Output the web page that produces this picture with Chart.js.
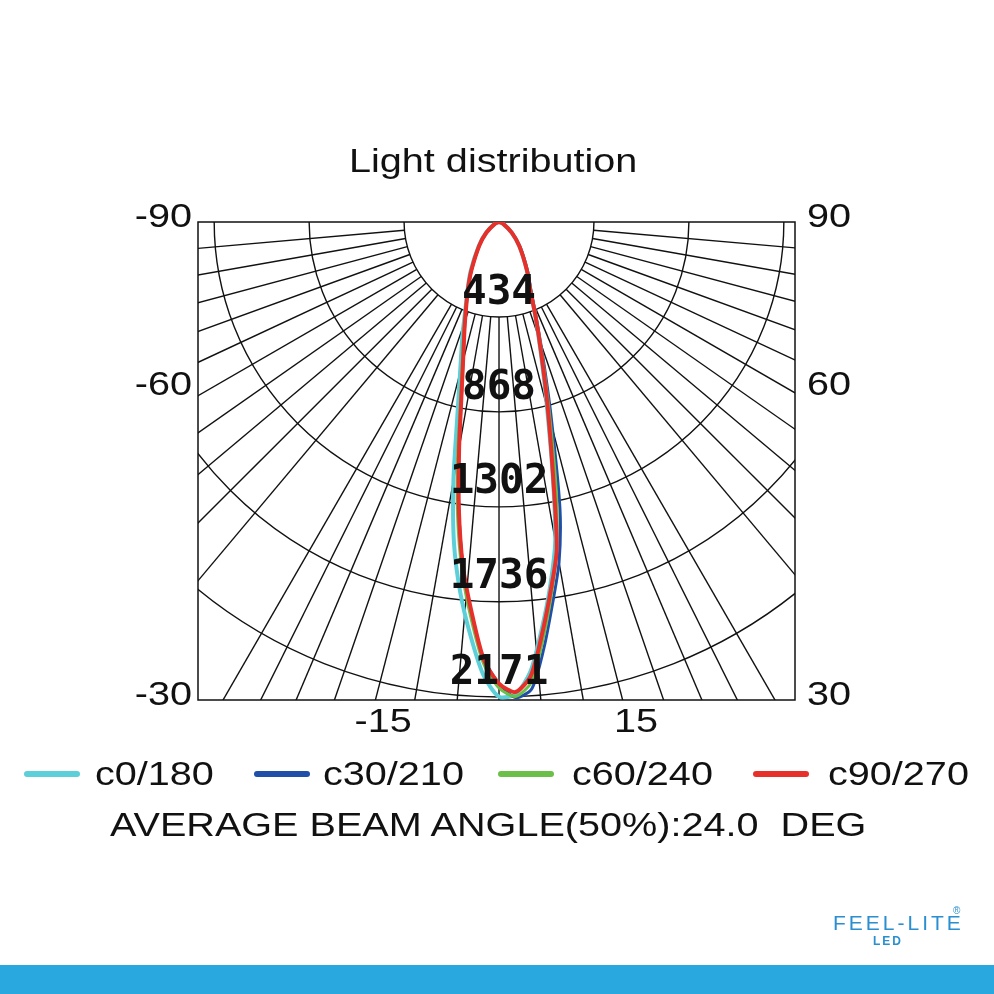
<!DOCTYPE html>
<html><head><meta charset="utf-8">
<script src="https://cdn.jsdelivr.net/npm/chart.js@4"></script>
<style>
body{margin:0;background:#fff;font-family:"Liberation Sans",Arial,sans-serif}
#wrap{position:relative;width:994px;height:994px;overflow:hidden}
canvas{position:absolute;left:0;top:0}
.t{position:absolute;color:#111;white-space:nowrap}
.sx{display:inline-block;transform:scaleX(1.2);transform-origin:left center}
.line{position:absolute;top:771px;width:56px;height:6px;border-radius:3px}
.lt{position:absolute;top:755px;font-size:33px;color:#111;white-space:nowrap}
</style></head><body><div id="wrap">
<canvas id="c" width="994" height="994"></canvas>
<div class="t" style="left:349px;top:142px;font-size:33px"><span class="sx">Light distribution</span></div>
<div class="line" style="left:24px;background:#5ccfd9"></div><div class="lt" style="left:95px"><span class="sx">c0/180</span></div>
<div class="line" style="left:254px;background:#1f4fa8"></div><div class="lt" style="left:323px"><span class="sx">c30/210</span></div>
<div class="line" style="left:498px;background:#6cc04a"></div><div class="lt" style="left:572px"><span class="sx">c60/240</span></div>
<div class="line" style="left:753px;background:#e8302a"></div><div class="lt" style="left:828px"><span class="sx">c90/270</span></div>
<div class="t" style="left:110px;top:806px;font-size:33px"><span class="sx">AVERAGE BEAM ANGLE(50%):24.0&nbsp; DEG</span></div>
<div class="t" style="left:833px;top:911px;font-size:21px;color:#2a8fd0;letter-spacing:3px">FEEL-LITE</div>
<div class="t" style="left:953px;top:905px;font-size:10px;color:#2a8fd0">®</div>
<div class="t" style="left:873px;top:934px;font-size:12px;color:#2a8fd0;font-weight:bold;letter-spacing:2px">LED</div>
<div style="position:absolute;left:0;top:965px;width:994px;height:29px;background:#29a8e0"></div>
</div>
<script>
const angles=[-90,-70,-50,-40,-30,-25,-21,-18,-15,-12,-10,-8,-6,-4,-2,0,2,4,6,8,10,12,15,18,21,25,30,40,50,70,90];
const c0_180=[0,18,78,145,260,340,430,540,680,920,1200,1480,1700,1890,2070,2170,2160,2060,1870,1680,1480,1180,830,610,465,338,255,145,75,18,0];
const c30_210=[0,18,75,140,250,335,420,510,630,830,1050,1320,1580,1800,2000,2110,2175,2140,1960,1760,1580,1340,920,650,480,345,262,150,78,18,0];
const c60_240=[0,18,76,142,252,336,424,520,645,850,1090,1360,1610,1820,2020,2130,2170,2110,1920,1720,1520,1260,880,635,475,340,258,148,77,18,0];
const c90_270=[0,18,75,140,250,335,420,510,630,830,1050,1320,1580,1790,2000,2110,2150,2080,1890,1700,1520,1190,850,620,470,335,255,145,76,18,0];
const rings=[434,868,1302,1736,2171,2605];
const ringLabels=['434','868','1302','1736','2171'];
const gridAngles=[0,5,10,14.5,19,23,26.5,30,40,45,50,55,60,65,70,75,80,85];
const leftTicks=[{v:0,t:'-90'},{v:-768,t:'-60'},{v:-2185,t:'-30'}];
const rightTicks=[{v:0,t:'90'},{v:-768,t:'60'},{v:-2185,t:'30'}];
const bottomTicks=[{v:-530,t:'-15'},{v:626,t:'15'}];
const toXY=arr=>arr.map((I,i)=>{const a=angles[i]*Math.PI/180;return {x:I*Math.sin(a),y:-I*Math.cos(a)};});
const ds=(lab,arr,col,w)=>({label:lab,data:toXY(arr),borderColor:col,borderWidth:w,showLine:true,pointRadius:0,tension:0.25,fill:false});
function sxText(ctx,t,x,y,align){const w=ctx.measureText(t).width*1.2;let x0=align==='right'?x-w:align==='center'?x-w/2:x;ctx.save();ctx.translate(x0,y);ctx.scale(1.2,1);ctx.textAlign='left';ctx.fillText(t,0,0);ctx.restore();}
const grid={id:'grid',
beforeDatasetsDraw(ch){const {ctx,chartArea:a,scales:{x,y}}=ch;const cx=x.getPixelForValue(0),cy=y.getPixelForValue(0);const k=(x.getPixelForValue(1000)-cx)/1000;
ctx.save();ctx.beginPath();ctx.rect(a.left,a.top,a.right-a.left,a.bottom-a.top);ctx.clip();ctx.strokeStyle='#111';ctx.lineWidth=1.4;
rings.forEach(r=>{ctx.beginPath();ctx.arc(cx,cy,r*k,0,Math.PI);ctx.stroke();});
gridAngles.forEach(g=>[1,-1].forEach(s=>{if(g===0&&s<0)return;const t=s*g*Math.PI/180;ctx.beginPath();ctx.moveTo(cx+rings[0]*k*Math.sin(t),cy+rings[0]*k*Math.cos(t));ctx.lineTo(cx+4000*k*Math.sin(t),cy+4000*k*Math.cos(t));ctx.stroke();}));
ctx.restore();ctx.save();ctx.strokeStyle='#111';ctx.lineWidth=1.5;ctx.strokeRect(a.left,a.top,a.right-a.left,a.bottom-a.top);
ctx.fillStyle='#111';ctx.font='33px "Liberation Sans"';ctx.textBaseline='middle';
leftTicks.forEach(o=>sxText(ctx,o.t,a.left-6,y.getPixelForValue(o.v)-4,'right'));
rightTicks.forEach(o=>sxText(ctx,o.t,a.right+12,y.getPixelForValue(o.v)-4,'left'));
ctx.textBaseline='top';bottomTicks.forEach(o=>sxText(ctx,o.t,x.getPixelForValue(o.v),a.bottom+6,'center'));
ctx.restore();},
afterDatasetsDraw(ch){const {ctx,scales:{x,y}}=ch;ctx.save();ctx.fillStyle='#111';ctx.font='bold 41px "DejaVu Sans Mono"';ctx.textAlign='center';ctx.textBaseline='middle';
ringLabels.forEach((t,i)=>{ctx.fillText(t,x.getPixelForValue(0),y.getPixelForValue(-rings[i])-24);});ctx.restore();}};
new Chart(document.getElementById('c'),{type:'scatter',
data:{datasets:[ds('c90/270',c90_270,'#e8302a',4),ds('c60/240',c60_240,'#6cc04a',3),ds('c30/210',c30_210,'#1f4fa8',3),ds('c0/180',c0_180,'#5ccfd9',4)]},
options:{responsive:false,devicePixelRatio:1,animation:false,layout:{padding:{left:198,right:199,top:222,bottom:294}},
scales:{x:{type:'linear',min:-1376,max:1353,display:false},y:{type:'linear',min:-2185,max:0,display:false}},
plugins:{legend:{display:false},tooltip:{enabled:false}}},plugins:[grid]});
</script></body></html>
